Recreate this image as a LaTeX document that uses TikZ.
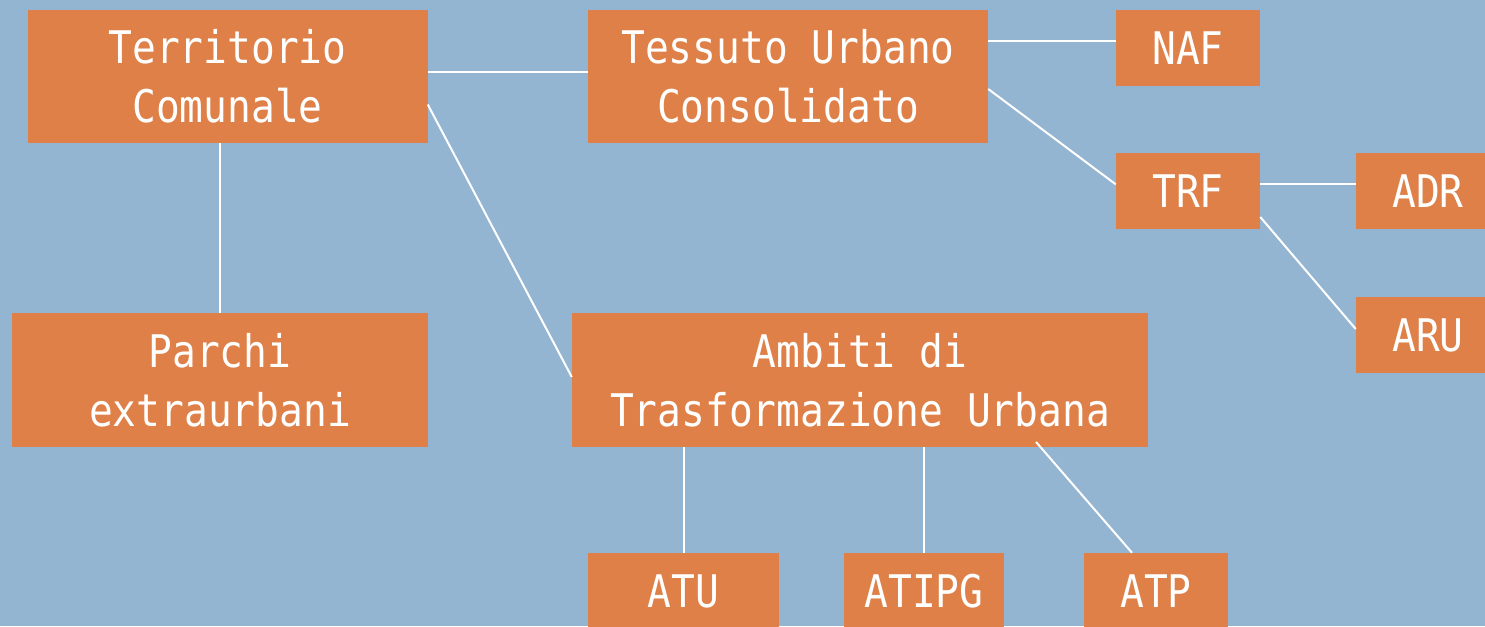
\documentclass[tikz,border=0pt]{standalone}
\usepackage{fontspec}
\setmonofont[FakeStretch=0.88]{DejaVu Sans Mono}
\usetikzlibrary{positioning}

\definecolor{bgblue}{RGB}{148,181,210}
\definecolor{boxorange}{RGB}{222,128,72}

\tikzset{
  box/.style={fill=boxorange, text=white, align=center, inner sep=0pt,
              font=\ttfamily\fontsize{33.7}{44}\selectfont},
  bigbox/.style={box, minimum width=300pt, minimum height=99.75pt},
  smallbox/.style={box, minimum width=108pt, minimum height=57pt},
  link/.style={white, line width=1.5pt}
}

\begin{document}
\begin{tikzpicture}[x=0.75pt,y=-0.75pt]

\path[use as bounding box, fill=bgblue] (0,0) rectangle (1485,626);
\clip (0,0) rectangle (1485,626);

% top row
\node[bigbox] (terr) at (227.5,76.5) {Territorio\\Comunale};
\node[bigbox] (tess) at (788,76.5) {Tessuto Urbano\\Consolidato};
\node[smallbox] (naf) at (1188,48) {NAF};
\node[smallbox] (trf) at (1188,191) {TRF};
\node[smallbox] (adr) at (1428,191) {ADR};
\node[smallbox] (aru) at (1428,335) {ARU};

% middle row
\node[bigbox, minimum width=312pt, minimum height=100.5pt] (parchi) at (220,380) {Parchi\\extraurbani};
\node[bigbox, minimum width=432pt, minimum height=100.5pt] (ambiti) at (860,380) {Ambiti di\\Trasformazione Urbana};

% bottom row
\node[smallbox, minimum width=143.25pt] (atu) at (683.5,591) {ATU};
\node[smallbox, minimum width=120pt] (atipg) at (924,591) {ATIPG};
\node[smallbox] (atp) at (1156,591) {ATP};

% links
\draw[link] ([yshift=3.2pt]terr.east) -- ([yshift=3.2pt]tess.west);
\draw[link] (terr.south -| parchi.north) -- (parchi.north);
\draw[link] ([yshift=-21pt]terr.east) -- ([yshift=2.3pt]ambiti.west);

\draw[link] ([yshift=5.25pt]naf.west -| tess.east) -- ([yshift=5.25pt]naf.west);
\draw[link] ([yshift=-9.4pt]tess.east) -- ([yshift=5pt]trf.west);
\draw[link] ([yshift=5pt]trf.east) -- ([yshift=5pt]adr.west);
\draw[link] ([yshift=-19.5pt]trf.east) -- ([yshift=4.5pt]aru.west);

\draw[link] (ambiti.south -| atu.north) -- (atu.north);
\draw[link] (ambiti.south -| atipg.north) -- (atipg.north);
\draw[link] ([xshift=132pt,yshift=4pt]ambiti.south) -- ([xshift=-18pt]atp.north);

\end{tikzpicture}
\end{document}
